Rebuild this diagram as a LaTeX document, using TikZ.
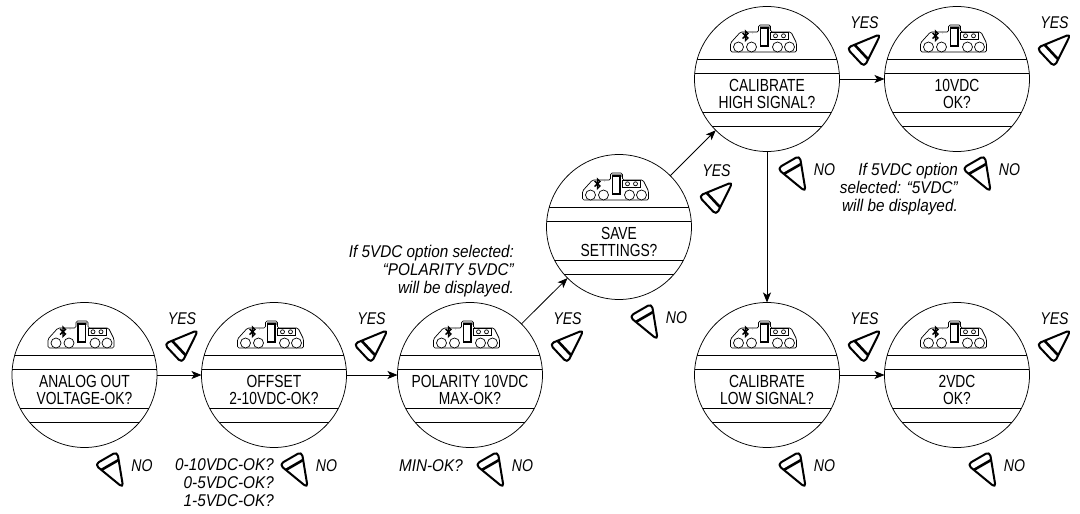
\documentclass[tikz,border=0pt]{standalone}
\usepackage{fontspec}
\setmainfont{Liberation Sans}[FakeStretch=0.79]
\newfontfamily\notefont{Liberation Sans}[FakeStretch=0.9]
\newfontfamily\ansfont{Liberation Sans}[FakeStretch=0.83]
\usetikzlibrary{arrows.meta,calc}
\tikzset{
  x=1pt,y=-1pt,
  dial/.style={circle,draw,line width=0.75pt,minimum size=145pt,inner sep=0pt,outer sep=0pt},
  disp/.style={align=center,font=\fontsize{17.5}{17}\selectfont,inner sep=0pt},
  note/.style={align=right,font=\notefont\fontsize{17}{18}\selectfont\itshape,inner sep=0pt},
  ans/.style={font=\ansfont\fontsize{17}{18}\selectfont\itshape,inner sep=0pt},
  link/.style={-{Stealth[length=10pt,width=8pt,inset=2.5pt]},line width=0.8pt},
  btn/.pic={
    \draw[line width=2pt,rounded corners=4.5pt,line join=round] (0,-13)--(0,13)--(34.5,0)--cycle;
    \draw[line width=2.6pt] (8,-10)--(8,10);
  },
  icon/.pic={
    \draw[line width=0.7pt,rounded corners=1.5pt] (-26.5,-47)--(-36.5,-36)--(-36.5,-27)--(29.5,-27)--(29.5,-36)--(24,-47)--(3.5,-47)--(3.5,-54)--(-8.5,-54)--(-8.5,-47)--cycle;
    \foreach \cx in {-28.5,-15.5,10.5,22.5} \draw[line width=0.7pt,fill=white] (\cx,-32) circle (5);
    \fill[black!45] (-7.5,-53)rectangle(2.5,-50);
    \draw[line width=1.3pt,fill=white] (-6.5,-51)rectangle(1,-33);
    \draw[line width=0.9pt] (3.5,-46.5)rectangle(21.5,-40);
    \foreach \cx in {8.5,16.5} \draw[line width=0.7pt] (\cx,-43.2) circle (2);
    \draw[line width=1.4pt] (-24.5,-46)--(-19,-41)--(-21.5,-38.5)--(-21.5,-48)--(-19,-45.5)--(-24.5,-40.5);
    \fill[black!40] (-14.5,-46.5) circle (1);
  }
}
\newcommand{\dialbox}[5]{% name,x,y,text,no-offset
  \node[dial] (#1) at (#2,#3) {};
  \begin{scope}[shift={(#2,#3)}]
    \clip (0,0) circle (72.5);
    \draw[line width=0.75pt] (-80,-20)--(80,-20) (-80,-6)--(80,-6) (-80,33)--(80,33) (-80,47)--(80,47);
  \end{scope}
  \pic at (#2,#3) {icon};
  \node[disp] (#1t) at ($(#2,#3)+(0,14.5)$) {#4};
  \node[ans] (#1y) at ($(#2,#3)+(97.5,-56.5)$) {YES};
  \pic[rotate=43] at ($(#2,#3)+(88.5,-21.5)$) {btn};
  \pic[rotate=-60] at ($(#2,#3)+(21.5+#5,83)$) {btn};
  \node[ans] (#1n) at ($(#2,#3)+(57.5+#5,90.5)$) {NO};
}
\begin{document}
\begin{tikzpicture}
\useasboundingbox (0,0) rectangle (1080,514);
\dialbox{a}{84.5}{375}{ANALOG OUT\\VOLTAGE-OK?}{0}
\dialbox{b}{274}{375}{OFFSET\\2-10VDC-OK?}{-5}
\dialbox{c}{470}{375}{POLARITY 10VDC\\MAX-OK?}{-5}
\dialbox{d}{619}{227}{SAVE\\SETTINGS?}{0}
\dialbox{e}{767}{79}{CALIBRATE\\HIGH SIGNAL?}{0}
\dialbox{f}{957}{79}{10VDC\\OK?}{-5}
\dialbox{g}{767}{375}{CALIBRATE\\LOW SIGNAL?}{0}
\dialbox{h}{957}{375}{2VDC\\OK?}{0}
\draw[link] (a.east)--(b.west);
\draw[link] (b.east)--(c.west);
\draw[link] (c)--(d);
\draw[link] (d)--(e);
\draw[link] (e.east)--(f.west);
\draw[link] (e.south)--(g.north);
\draw[link] (g.east)--(h.west);
\node[note,anchor=north east] (n1) at (274,458) {0-10VDC-OK?\\0-5VDC-OK?\\1-5VDC-OK?};
\node[note,anchor=east] (n2) at (463,466) {MIN-OK?};
\node[note,anchor=east] (n3) at (514,271) {If 5VDC option selected:\\“POLARITY 5VDC”\\will be displayed.};
\node[note,anchor=east] (n4) at (958,189) {If 5VDC option\\selected: “5VDC”\\will be displayed.};
\end{tikzpicture}
\end{document}
